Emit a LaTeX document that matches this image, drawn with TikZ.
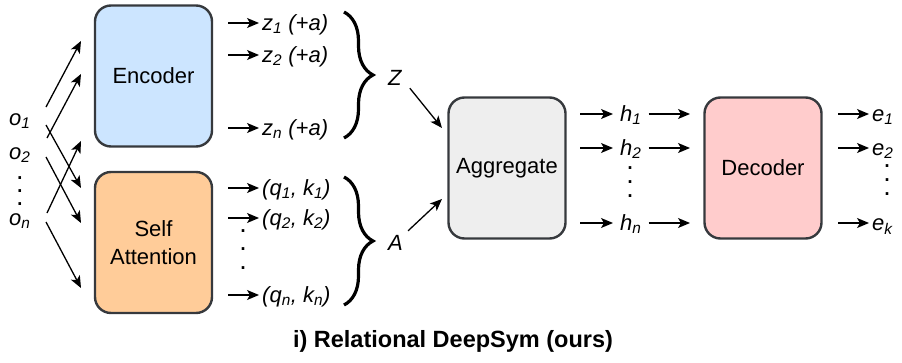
\documentclass[tikz,border=0pt]{standalone}
\usepackage{fontspec}
\setmainfont{Liberation Sans}
\usetikzlibrary{arrows.meta,decorations.pathreplacing}
\definecolor{strokegray}{HTML}{36393D}
\definecolor{encfill}{HTML}{CCE5FF}
\definecolor{attfill}{HTML}{FFCC99}
\definecolor{aggfill}{HTML}{EEEEEE}
\definecolor{decfill}{HTML}{FFCCCC}
\begin{document}
\begin{tikzpicture}[x=1pt,y=-1pt,
  box/.style={draw=strokegray, line width=2.4pt, rounded corners=16pt, minimum width=117pt, minimum height=141pt, font=\fontsize{22}{28}\selectfont, align=center, inner sep=0pt},
  arr/.style={-{Stealth[length=12pt,width=10pt,inset=3pt]}, line width=1.3pt},
  lab/.style={font=\fontsize{22}{26}\selectfont\itshape, inner ysep=1pt, inner xsep=3pt, text height=16pt, text depth=2pt, anchor=west},
  dotc/.style={font=\fontsize{27}{30}\selectfont, inner sep=0pt, anchor=base},
  brc/.style={decorate, decoration={brace, amplitude=29pt}, line width=3.2pt},
]
\useasboundingbox (0,0) rectangle (902,362);

% boxes
\node[box, fill=encfill] (enc) at (153.5,76) {Encoder};
\node[box, fill=attfill] (att) at (153.5,242.5) {Self\\Attention};
\node[box, fill=aggfill] (agg) at (507,168) {Aggregate};
\node[box, fill=decfill] (dec) at (763,168) {Decoder};

% inputs
\node[lab, inner xsep=1pt] (o1) at (8,118) {o\textsubscript{1}};
\node[lab, inner xsep=1pt] (o2) at (8,152) {o\textsubscript{2}};
\node[dotc] (od1) at (20,179.5) {.};
\node[dotc] (od2) at (20,192.5) {.};
\node[dotc] (od3) at (20,205.5) {.};
\node[lab, inner xsep=1pt] (on) at (8,218) {o\textsubscript{n}};

\coordinate (s1u) at (46,107); \coordinate (t1u) at (81,41);
\coordinate (s2u) at (47,138); \coordinate (t2u) at (81,74);
\coordinate (s1d) at (46,125); \coordinate (t1d) at (81,188);
\coordinate (s2d) at (46,157); \coordinate (t2d) at (81,223);
\coordinate (snu) at (47,213); \coordinate (tnu) at (81,141);
\coordinate (snd) at (46,222); \coordinate (tnd) at (81,288);
\draw[arr] (s1u) -- (t1u);
\draw[arr] (s2u) -- (t2u);
\draw[arr] (s1d) -- (t1d);
\draw[arr] (s2d) -- (t2d);
\draw[arr] (snu) -- (tnu);
\draw[arr] (snd) -- (tnd);

% encoder outputs
\coordinate (ze1) at (228,23); \coordinate (ze2) at (228,55); \coordinate (zen) at (228,128);
\node[lab] (z1) at (259,23) {z\textsubscript{1} (+a)};
\node[lab] (z2) at (259,55) {z\textsubscript{2} (+a)};
\node[lab] (zn) at (259,128) {z\textsubscript{n} (+a)};
\draw[arr] (ze1) -- (z1.west);
\draw[arr] (ze2) -- (z2.west);
\draw[arr] (zen) -- (zn.west);

% attention outputs
\coordinate (qa1) at (228,188); \coordinate (qa2) at (228,218); \coordinate (qan) at (228,295);
\node[lab] (q1) at (259,188) {(q\textsubscript{1}, k\textsubscript{1})};
\node[lab] (q2) at (259,218) {(q\textsubscript{2}, k\textsubscript{2})};
\node[lab] (qn) at (259,295) {(q\textsubscript{n}, k\textsubscript{n})};
\node[dotc] (qd1) at (243,232) {.};
\node[dotc] (qd2) at (243,250) {.};
\node[dotc] (qd3) at (243,269) {.};
\draw[arr] (qa1) -- (q1.west);
\draw[arr] (qa2) -- (q2.west);
\draw[arr] (qan) -- (qn.west);

% braces
\coordinate (bz1) at (344,12); \coordinate (bz2) at (344,138);
\coordinate (ba1) at (344,177); \coordinate (ba2) at (344,305);
\draw[brc] (bz1) -- (bz2);
\draw[brc] (ba1) -- (ba2);

\node[lab, inner xsep=1pt] (Z) at (387,78) {Z};
\node[lab, inner xsep=1pt] (A) at (387,243) {A};
\coordinate (zin) at (442,128);
\coordinate (ain) at (442,199);
\draw[arr] ([xshift=7pt]Z.south east) -- (zin);
\draw[arr] ([xshift=4pt,yshift=2pt]A.north east) -- (ain);

% aggregate outputs
\coordinate (ha1) at (580,114); \coordinate (ha2) at (580,148); \coordinate (han) at (580,223);
\node[lab, inner xsep=7pt] (h1) at (613,114) {h\textsubscript{1}};
\node[lab, inner xsep=7pt] (h2) at (613,148) {h\textsubscript{2}};
\node[lab, inner xsep=7pt] (hn) at (613,223) {h\textsubscript{n}};
\node[dotc] (hd1) at (630,169) {.};
\node[dotc] (hd2) at (630,183) {.};
\node[dotc] (hd3) at (630,197) {.};
\draw[arr] (ha1) -- (h1.west);
\draw[arr] (ha2) -- (h2.west);
\draw[arr] (han) -- (hn.west);
\coordinate (hb1) at (690,114); \coordinate (hb2) at (690,148); \coordinate (hbn) at (690,223);
\draw[arr] (h1.east) -- (hb1);
\draw[arr] (h2.east) -- (hb2);
\draw[arr] (hn.east) -- (hbn);

% decoder outputs
\coordinate (ea1) at (838,114); \coordinate (ea2) at (838,148); \coordinate (ean) at (838,223);
\node[lab] (e1) at (869,114) {e\textsubscript{1}};
\node[lab] (e2) at (869,148) {e\textsubscript{2}};
\node[lab] (en) at (869,223) {e\textsubscript{k}};
\node[dotc] (ed1) at (887,167) {.};
\node[dotc] (ed2) at (887,181) {.};
\node[dotc] (ed3) at (887,195) {.};
\draw[arr] (ea1) -- (e1.west);
\draw[arr] (ea2) -- (e2.west);
\draw[arr] (ean) -- (en.west);

% title
\node[font=\fontsize{23.5}{28}\selectfont\bfseries] (title) at (453,341) {i) Relational DeepSym (ours)};
\end{tikzpicture}
\end{document}
